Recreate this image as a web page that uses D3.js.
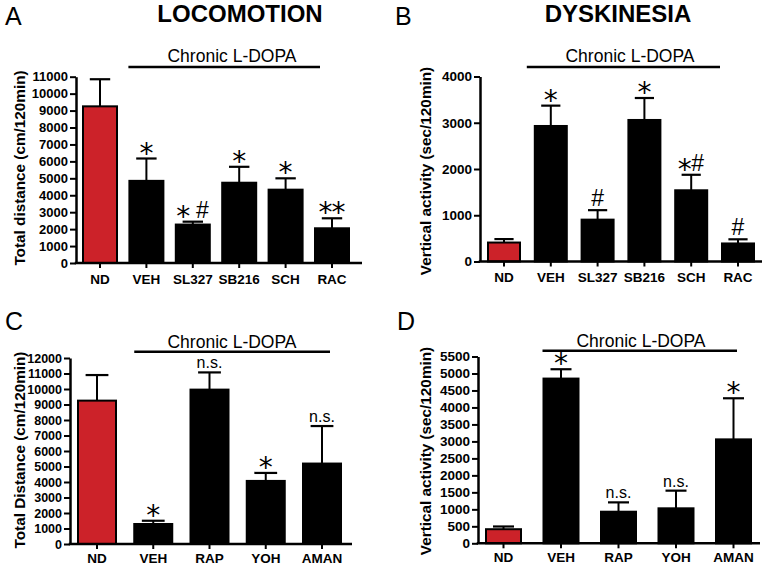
<!DOCTYPE html>
<html><head><meta charset="utf-8">
<script src="https://cdn.jsdelivr.net/npm/d3@7"></script>
<style>body{margin:0;background:#fff} svg{display:block}</style>
</head><body>
<svg id="chart" width="765" height="566"></svg>
<script>
// ---------- data ----------
const catsAB = ["ND", "VEH", "SL327", "SB216", "SCH", "RAC"];
const catsCD = ["ND", "VEH", "RAP", "YOH", "AMAN"];
const locoA = [9250, 4850, 2270, 4740, 4330, 2050];
const locoAErr = [1600, 1320, 170, 940, 670, 590];
const dyskB = [410, 2930, 905, 3060, 1540, 390];
const dyskBErr = [75, 440, 205, 475, 335, 90];
const locoC = [9250, 1290, 9960, 4070, 5190];
const locoCErr = [1650, 210, 1110, 515, 2420];
const dyskD = [415, 4850, 930, 1030, 3060];
const dyskDErr = [80, 275, 275, 520, 1210];
const sigA = ["", "*", "* #", "*", "*", "**"];
const sigB = ["", "*", "#", "*", "*#", "#"];
const sigC = ["", "*", "n.s.", "*", "n.s."];
const sigD = ["", "*", "n.s.", "n.s.", "*"];
const ticksA = d3.range(0, 11001, 1000);
const ticksB = [0, 1000, 2000, 3000, 4000];
const ticksC = d3.range(0, 12001, 1000);
const ticksD = d3.range(0, 5501, 500);
const groupLabel = "Chronic L-DOPA";

// ---------- style ----------
const RED = "#cc2229";
const FONT = "'Liberation Sans', Arial, Helvetica, sans-serif";
const svg = d3.select("#chart");

function panel(cfg, cats, vals, errs, sigs, ticks) {
  const g = svg.append("g");
  const n = cats.length;
  const pi = 1 - cfg.barW / cfg.step, po = cfg.gap / cfg.step;
  const x = d3.scaleBand().domain(cats)
    .range([cfg.axisX, cfg.axisX + cfg.step * (n - pi + 2 * po)])
    .paddingInner(pi).paddingOuter(po);
  const y = d3.scaleLinear().domain([0, cfg.yMax]).range([cfg.y0, cfg.yTop]);
  const bw = x.bandwidth();

  // panel letter
  g.append("text").attr("x", cfg.letterX).attr("y", cfg.letterY)
    .attr("font-family", FONT).attr("font-size", 25).text(cfg.letter);
  if (cfg.title) {
    g.append("text").attr("x", cfg.titleX).attr("y", 22).attr("text-anchor", "middle")
      .attr("font-family", FONT).attr("font-weight", "bold").attr("font-size", 24).text(cfg.title);
  }
  // chronic L-DOPA bracket
  const lx0 = x(cats[1]) + cfg.lineOff[0], lx1 = x(cats[n - 1]) + cfg.lineOff[1];
  g.append("line").attr("x1", lx0).attr("x2", lx1).attr("y1", cfg.lineY).attr("y2", cfg.lineY)
    .attr("stroke", "#000").attr("stroke-width", 2.5);
  g.append("text").attr("x", cfg.chronicX).attr("y", cfg.chronicY).attr("text-anchor", "middle")
    .attr("font-family", FONT).attr("font-size", 17.5).text(groupLabel);

  // bars
  g.selectAll("rect.bar").data(cats).join("rect").attr("class", "bar")
    .attr("x", d => x(d)).attr("width", bw)
    .attr("y", (d, i) => y(vals[i])).attr("height", (d, i) => y(0) - y(vals[i]))
    .attr("fill", (d, i) => i === 0 ? RED : "#000")
    .attr("stroke", "#000").attr("stroke-width", 2);

  // error bars (upper only)
  const cap = bw * 0.6;
  const eg = g.selectAll("g.err").data(cats).join("g").attr("class", "err");
  eg.append("line").attr("x1", d => x(d) + bw / 2).attr("x2", d => x(d) + bw / 2)
    .attr("y1", (d, i) => y(vals[i])).attr("y2", (d, i) => y(vals[i] + errs[i]))
    .attr("stroke", "#000").attr("stroke-width", 2);
  eg.append("line").attr("x1", d => x(d) + bw / 2 - cap / 2).attr("x2", d => x(d) + bw / 2 + cap / 2)
    .attr("y1", (d, i) => y(vals[i] + errs[i])).attr("y2", (d, i) => y(vals[i] + errs[i]))
    .attr("stroke", "#000").attr("stroke-width", 2.2);

  // significance marks
  cats.forEach((c, i) => {
    const s = sigs[i];
    if (!s) return;
    const cx = x(c) + bw / 2;
    const top = y(vals[i] + errs[i]);
    if (s === "n.s.") {
      g.append("text").attr("x", cx).attr("y", top - 4).attr("text-anchor", "middle")
        .attr("font-family", FONT).attr("font-size", 16).text(s);
      return;
    }
    const glyphs = s.split("");
    const wOf = ch => ch === " " ? 6 : 13;
    const total = d3.sum(glyphs, wOf);
    let pos = cx - total / 2;
    glyphs.forEach(ch => {
      const w = wOf(ch);
      const gx = pos + w / 2;
      pos += w;
      if (ch === "*") {
        g.append("text").attr("x", gx).attr("y", top - 9 + 13).attr("text-anchor", "middle")
          .attr("font-family", "'DejaVu Sans', sans-serif").attr("font-size", 28).text("*");
      } else if (ch === "#") {
        g.append("text").attr("x", gx).attr("y", top - 12 + 8).attr("text-anchor", "middle")
          .attr("font-family", FONT).attr("font-size", 23).text("#");
      }
    });
  });

  // y axis
  const ya = g.append("g").attr("transform", `translate(${cfg.axisX},0)`)
    .call(d3.axisLeft(y).tickValues(ticks).tickSize(6).tickPadding(2).tickSizeOuter(0).tickFormat(d3.format("d")));
  ya.select(".domain").attr("stroke-width", 2.5);
  ya.selectAll(".tick line").attr("stroke-width", 2);
  ya.selectAll(".tick text").attr("font-family", FONT).attr("font-weight", "bold").attr("font-size", cfg.tickFont).attr("fill", "#000");

  // x axis
  const xa = g.append("g").attr("transform", `translate(0,${cfg.y0})`)
    .call(d3.axisBottom(x).tickSize(5).tickPadding(cfg.xPad).tickSizeOuter(0));
  xa.select(".domain").remove();
  xa.selectAll(".tick line").attr("stroke-width", 2);
  xa.selectAll(".tick text").attr("font-family", FONT).attr("font-weight", "bold").attr("font-size", 13.5).attr("fill", "#000");
  g.append("line").attr("x1", cfg.axisX - 1.25).attr("x2", cfg.axisEnd).attr("y1", cfg.y0).attr("y2", cfg.y0)
    .attr("stroke", "#000").attr("stroke-width", 2.5);

  // y label
  g.append("text").attr("transform", `translate(${cfg.ylabelX},${cfg.ylabelY}) rotate(-90)`)
    .attr("text-anchor", "middle").attr("font-family", FONT).attr("font-weight", "bold")
    .attr("font-size", 15.3).text(cfg.ylabel);
}

panel({ letter: "A", letterX: 5, letterY: 25, title: "LOCOMOTION", titleX: 240,
  axisX: 76, axisEnd: 362, y0: 263, yTop: 76.7, yMax: 11000, step: 46.4, barW: 34, gap: 7,
  tickFont: 13, xPad: 6,
  ylabel: "Total distance (cm/120min)", ylabelX: 25, ylabelY: 168,
  chronicX: 232, chronicY: 62, lineY: 67, lineOff: [-1, 5] }, catsAB, locoA, locoAErr, sigA, ticksA);

panel({ letter: "B", letterX: 395, letterY: 25, title: "DYSKINESIA", titleX: 618,
  axisX: 480, axisEnd: 762, y0: 261.5, yTop: 76.5, yMax: 4000, step: 46.8, barW: 32, gap: 8,
  tickFont: 13.5, xPad: 6,
  ylabel: "Vertical activity (sec/120min)", ylabelX: 431, ylabelY: 171,
  chronicX: 630, chronicY: 62, lineY: 67, lineOff: [-8, -2] }, catsAB, dyskB, dyskBErr, sigB, ticksB);

panel({ letter: "C", letterX: 5, letterY: 330,
  axisX: 70, axisEnd: 352, y0: 544, yTop: 358, yMax: 12000, step: 56.25, barW: 38, gap: 8,
  tickFont: 12.5, xPad: 4,
  ylabel: "Total Distance (cm/120min)", ylabelX: 25, ylabelY: 450,
  chronicX: 232, chronicY: 348, lineY: 351.7, lineOff: [0, 27] }, catsCD, locoC, locoCErr, sigC, ticksC);

panel({ letter: "D", letterX: 397, letterY: 330,
  axisX: 478, axisEnd: 760, y0: 543.3, yTop: 356.5, yMax: 5500, step: 57.5, barW: 35, gap: 8,
  tickFont: 13.5, xPad: 4,
  ylabel: "Vertical activity (sec/120min)", ylabelX: 431, ylabelY: 451,
  chronicX: 641, chronicY: 347, lineY: 350.7, lineOff: [-1, 21] }, catsCD, dyskD, dyskDErr, sigD, ticksD);
</script>
</body></html>
